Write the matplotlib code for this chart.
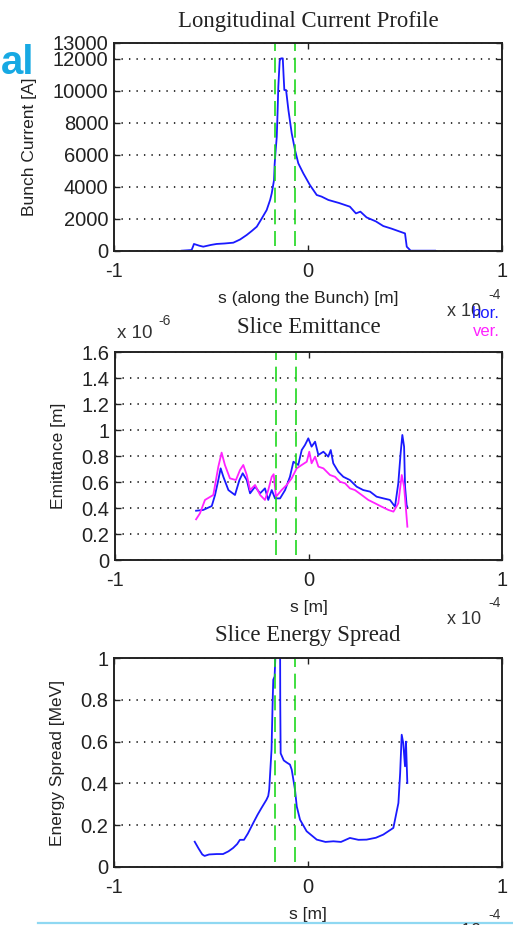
import matplotlib
matplotlib.use("Agg")
import matplotlib.pyplot as plt
from matplotlib.ticker import FuncFormatter

plt.rcParams["font.family"] = ["Liberation Sans", "DejaVu Sans"]
plt.rcParams["axes.unicode_minus"] = False

# ---- data (s in units of 1e-4 m) ----
cur_s = [-0.651, -0.60, -0.592, -0.588, -0.56, -0.540, -0.50, -0.471, -0.43, -0.385,
         -0.35, -0.316, -0.29, -0.264, -0.24, -0.213, -0.195, -0.187, -0.175, -0.172,
         -0.168, -0.161, -0.157, -0.153, -0.146, -0.139, -0.130, -0.126, -0.122, -0.113,
         -0.101, -0.084, -0.067, -0.050, -0.024, 0.010, 0.045, 0.07, 0.105, 0.16,
         0.216, 0.247, 0.27, 0.302, 0.35, 0.388, 0.43, 0.474, 0.50, 0.509,
         0.529, 0.60, 0.655]
cur_I = [20, 60, 300, 440, 330, 270, 380, 440, 470, 520,
         720, 1000, 1250, 1520, 2000, 2560, 3200, 3600, 4440, 5400,
         6100, 7140, 8600, 10270, 11900, 12040, 12040, 11000, 10060, 10060,
         8810, 7360, 6310, 5480, 4850, 4120, 3500, 3400, 3190, 3000,
         2770, 2350, 2460, 2100, 1850, 1560, 1400, 1210, 1100, 270,
         20, 20, 20]

em_s_hor = [-0.581, -0.544, -0.50, -0.483, -0.466, -0.454, -0.44, -0.414, -0.38, -0.357,
            -0.34, -0.319, -0.302, -0.276, -0.25, -0.225, -0.208, -0.19, -0.173, -0.147,
            -0.121, -0.096, -0.078, -0.053, -0.035, -0.018, -0.001, 0.016, 0.034, 0.051,
            0.077, 0.102, 0.115, 0.128, 0.154, 0.18, 0.214, 0.249, 0.283, 0.318,
            0.352, 0.387, 0.421, 0.447, 0.464, 0.476, 0.485, 0.494, 0.499, 0.507, 0.51]
em_hor = [0.379, 0.385, 0.415, 0.50, 0.615, 0.705, 0.64, 0.538, 0.50, 0.615,
          0.667, 0.615, 0.513, 0.564, 0.513, 0.551, 0.462, 0.538, 0.474, 0.474,
          0.538, 0.64, 0.756, 0.731, 0.846, 0.885, 0.936, 0.872, 0.91, 0.808,
          0.833, 0.795, 0.846, 0.744, 0.679, 0.64, 0.615, 0.564, 0.538, 0.526,
          0.487, 0.474, 0.462, 0.41, 0.59, 0.82, 0.962, 0.872, 0.564, 0.423, 0.41]

em_s_ver = [-0.581, -0.561, -0.535, -0.492, -0.466, -0.449, -0.432, -0.406, -0.375, -0.354,
            -0.337, -0.319, -0.302, -0.276, -0.25, -0.225, -0.208, -0.19, -0.18, -0.168,
            -0.139, -0.113, -0.087, -0.061, -0.035, -0.009, 0.004, 0.016, 0.034, 0.051,
            0.077, 0.111, 0.137, 0.163, 0.189, 0.214, 0.24, 0.275, 0.309, 0.344,
            0.378, 0.413, 0.439, 0.464, 0.482, 0.494, 0.504, 0.511]
em_ver = [0.313, 0.359, 0.462, 0.50, 0.718, 0.826, 0.731, 0.628, 0.615, 0.692,
          0.731, 0.654, 0.538, 0.577, 0.50, 0.462, 0.538, 0.64, 0.66, 0.487,
          0.538, 0.577, 0.628, 0.705, 0.731, 0.756, 0.833, 0.744, 0.795, 0.718,
          0.705, 0.654, 0.64, 0.602, 0.59, 0.551, 0.538, 0.50, 0.462, 0.436,
          0.41, 0.385, 0.372, 0.436, 0.654, 0.564, 0.385, 0.256]

es_s = [-0.584, -0.565, -0.545, -0.533, -0.51, -0.47, -0.438, -0.41, -0.386, -0.365,
        -0.351, -0.33, -0.31, -0.282, -0.26, -0.24, -0.214, -0.205, -0.20, -0.195,
        -0.188, -0.182, -0.179, -0.172, -0.150, -0.145, -0.143, -0.141, -0.125, -0.11,
        -0.093, -0.084, -0.067, -0.058, -0.041, -0.007, 0.045, 0.09, 0.131, 0.17,
        0.216, 0.26, 0.302, 0.35, 0.388, 0.44, 0.466, 0.475, 0.483, 0.491,
        0.50, 0.505, 0.512]
es_E = [0.121, 0.09, 0.06, 0.053, 0.06, 0.062, 0.062, 0.075, 0.091, 0.11,
        0.13, 0.13, 0.16, 0.211, 0.25, 0.282, 0.322, 0.34, 0.37, 0.45,
        0.561, 0.80, 0.896, 0.912, 1.45, 1.45, 0.78, 0.544, 0.51, 0.50,
        0.49, 0.466, 0.37, 0.29, 0.226, 0.171, 0.131, 0.12, 0.123, 0.12,
        0.139, 0.13, 0.131, 0.14, 0.155, 0.187, 0.306, 0.45, 0.633, 0.593,
        0.482, 0.60, 0.402]

bounds = [-0.17, -0.065]

W, H = 513, 925
fig = plt.figure(figsize=(W / 100, H / 100), dpi=100)


def px_axes(left, top, right, bottom):
    return fig.add_axes([left / W, 1 - bottom / H, (right - left) / W, (bottom - top) / H])


ax1 = px_axes(114, 43, 502, 251)
ax2 = px_axes(115, 352, 502, 560)
ax3 = px_axes(114, 658, 502, 867)

BLUE = "#1a1aff"
MAG = "#ff22ff"
GREEN = "#1fd81f"

ax1.plot(cur_s, cur_I, color=BLUE, lw=1.3)
ax2.plot(em_s_hor, em_hor, color=BLUE, lw=1.3)
ax2.plot(em_s_ver, em_ver, color=MAG, lw=1.3)
ax3.plot(es_s, es_E, color=BLUE, lw=1.3)

setup = [
    (ax1, (0, 13000), [0, 2000, 4000, 6000, 8000, 10000, 12000, 13000],
     "Longitudinal Current Profile", "Bunch Current [A]", "s (along the Bunch) [m]", 11.5),
    (ax2, (0, 1.6), [0, 0.2, 0.4, 0.6, 0.8, 1.0, 1.2, 1.4, 1.6],
     "Slice Emittance", "Emittance [m]", "s [m]", 13.5),
    (ax3, (0, 1.0), [0, 0.2, 0.4, 0.6, 0.8, 1.0],
     "Slice Energy Spread", "Energy Spread [MeV]", "s [m]", 12.5),
]

for ax, ylim, yt, title, ylab, xlab, tpad in setup:
    for b in bounds:
        ax.axvline(b, ymin=0.025, ymax=0.995, color=GREEN, lw=1.2, dashes=(9, 4))
    ax.set_xlim(-1, 1)
    ax.set_ylim(*ylim)
    ax.set_xticks([-1, 0, 1])
    ax.set_yticks(yt)
    ax.yaxis.set_major_formatter(FuncFormatter(lambda v, p: "%g" % v))
    ax.xaxis.set_major_formatter(FuncFormatter(lambda v, p: "%g" % v))
    ax.tick_params(direction="in", length=4, width=1, top=True, right=True,
                   labelsize=14.5, colors="#222222")
    ax.tick_params(axis="x", pad=8)
    ax.tick_params(axis="y", pad=4)
    ax.yaxis.grid(True, color="black", linestyle=(0, (0.9, 4.0)), lw=1.1)
    for sp in ax.spines.values():
        sp.set_linewidth(1.4)
        sp.set_color("#222222")
    ax.set_title(title, family="Liberation Serif", fontsize=16.4, pad=tpad, color="#222222")
    ax.set_ylabel(ylab, fontsize=12.5, labelpad=11, color="#222222")
    ax.set_xlabel(xlab, fontsize=12.5, labelpad=7, color="#222222")


def ftext(x, y, s, **kw):
    fig.text(x / W, 1 - y / H, s, **kw)


# axis scale multipliers
for yb in (312, 620, 932):
    ftext(447, yb, "x 10", fontsize=13, color="#333333", va="center", ha="left")
    ftext(488, yb - 17, "-4", fontsize=10, color="#333333", va="center", ha="left")
ftext(117, 334, "x 10", fontsize=13.5, color="#333333", va="center", ha="left")
ftext(158, 321, "-6", fontsize=10, color="#333333", va="center", ha="left")

# legend entries for the emittance panel
ftext(500, 313, "hor.", fontsize=12, color=BLUE, va="center", ha="right")
ftext(500, 331, "ver.", fontsize=12, color=MAG, va="center", ha="right")

# slide fragments
ftext(1, 63, "al", fontsize=29, fontweight="bold", color="#17a9e3", va="center", ha="left")
fig.add_artist(plt.Line2D([38 / W, 1], [1 - 923 / H, 1 - 923 / H], color="#8fd8f2", lw=1.6))

fig.savefig("out.png", dpi=100)
